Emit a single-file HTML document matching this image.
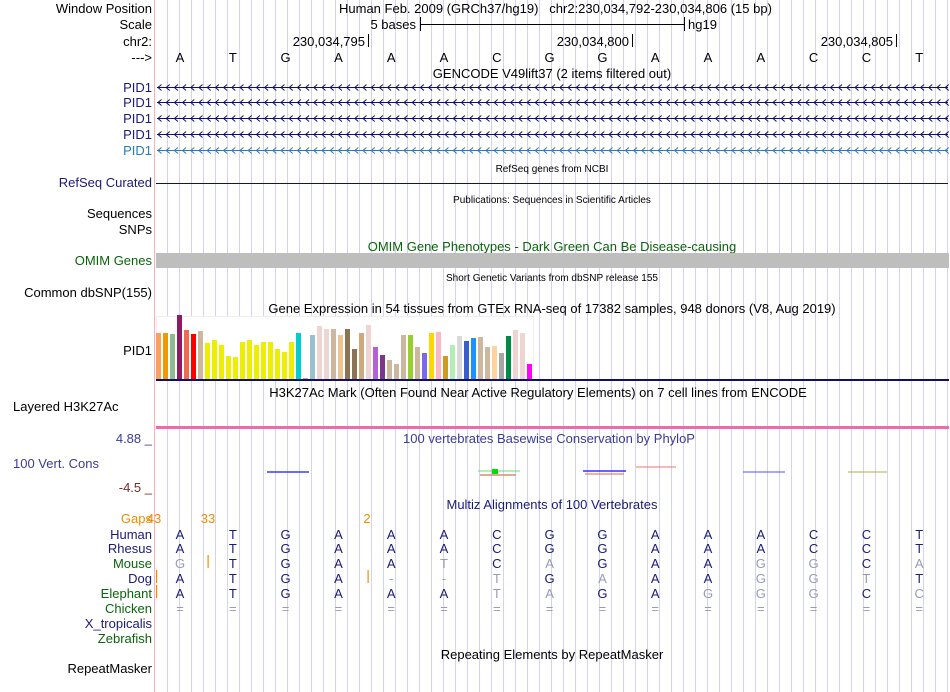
<!DOCTYPE html>
<html><head><meta charset="utf-8">
<style>
html,body{margin:0;padding:0;background:#fff;}
svg{display:block;font-family:"Liberation Sans",sans-serif;}
</style></head>
<body>
<svg id="main" width="950" height="692" viewBox="0 0 950 692" xmlns="http://www.w3.org/2000/svg">
<g id="grid"></g>
<line x1="154.5" y1="0" x2="154.5" y2="692" stroke="#ffb0b0" stroke-width="1"/>
<g font-size="13" text-anchor="end">
<text x="152" y="13" fill="#000">Window Position</text>
<text x="152" y="29" fill="#000">Scale</text>
<text x="152" y="46" fill="#000">chr2:</text>
<text x="152" y="62" fill="#000">---&gt;</text>
<text x="152" y="92" fill="#1a1a7a">PID1</text>
<text x="152" y="107" fill="#1a1a7a">PID1</text>
<text x="152" y="123" fill="#1a1a7a">PID1</text>
<text x="152" y="139" fill="#1a1a7a">PID1</text>
<text x="152" y="155" fill="#2a7ab8">PID1</text>
<text x="152" y="187" fill="#1a1a7a">RefSeq Curated</text>
<text x="152" y="218" fill="#000">Sequences</text>
<text x="152" y="234" fill="#000">SNPs</text>
<text x="152" y="265" fill="#0a640a">OMIM Genes</text>
<text x="152" y="297" fill="#000">Common dbSNP(155)</text>
<text x="152" y="355" fill="#000">PID1</text>
<text x="13" y="411" text-anchor="start" fill="#000">Layered H3K27Ac</text>
<text x="152" y="443" fill="#3a3a9a">4.88 _</text>
<text x="13" y="468" text-anchor="start" fill="#3a3a9a">100 Vert. Cons</text>
<text x="152" y="492" fill="#7a2a2a">-4.5 _</text>
<text x="152" y="523" fill="#f08c00">Gaps</text>
<text x="152" y="539" fill="#1a1a7a">Human</text>
<text x="152" y="553" fill="#1a1a7a">Rhesus</text>
<text x="152" y="568" fill="#0a640a">Mouse</text>
<text x="152" y="583" fill="#1a1a7a">Dog</text>
<text x="152" y="598" fill="#0a640a">Elephant</text>
<text x="152" y="613" fill="#0a640a">Chicken</text>
<text x="152" y="628" fill="#1a1a7a">X_tropicalis</text>
<text x="152" y="643" fill="#0a640a">Zebrafish</text>
<text x="152" y="673" fill="#000">RepeatMasker</text>
</g>
<g font-size="13" fill="#000">
<text x="339" y="13">Human Feb. 2009 (GRCh37/hg19)&#160;&#160;&#160;chr2:230,034,792-230,034,806 (15 bp)</text>
<text x="416" y="29" text-anchor="end">5 bases</text>
<line x1="420" y1="24.5" x2="684" y2="24.5" stroke="#000"/>
<line x1="420.5" y1="17" x2="420.5" y2="31" stroke="#000"/>
<line x1="684.5" y1="17" x2="684.5" y2="31" stroke="#000"/>
<text x="688" y="29">hg19</text>
<text x="365" y="46" text-anchor="end">230,034,795</text>
<line x1="368.5" y1="34" x2="368.5" y2="47" stroke="#000"/>
<text x="629" y="46" text-anchor="end">230,034,800</text>
<line x1="632.5" y1="34" x2="632.5" y2="47" stroke="#000"/>
<text x="893" y="46" text-anchor="end">230,034,805</text>
<line x1="896.5" y1="34" x2="896.5" y2="47" stroke="#000"/>
</g>
<g id="bases" font-size="13" text-anchor="middle"></g>
<g text-anchor="middle">
<text x="552" y="78" font-size="13">GENCODE V49lift37 (2 items filtered out)</text>
<text x="552" y="172" font-size="10">RefSeq genes from NCBI</text>
<text x="552" y="203" font-size="10">Publications: Sequences in Scientific Articles</text>
<text x="552" y="251" font-size="13" fill="#0a640a">OMIM Gene Phenotypes - Dark Green Can Be Disease-causing</text>
<text x="552" y="281" font-size="10">Short Genetic Variants from dbSNP release 155</text>
<text x="552" y="313" font-size="13">Gene Expression in 54 tissues from GTEx RNA-seq of 17382 samples, 948 donors (V8, Aug 2019)</text>
<text x="538" y="397" font-size="13">H3K27Ac Mark (Often Found Near Active Regulatory Elements) on 7 cell lines from ENCODE</text>
<text x="549" y="443" font-size="13" fill="#3a3a9a">100 vertebrates Basewise Conservation by PhyloP</text>
<text x="552" y="509" font-size="13" fill="#1a1a7a">Multiz Alignments of 100 Vertebrates</text>
<text x="552" y="659" font-size="13">Repeating Elements by RepeatMasker</text>
</g>
<g id="genes"></g>
<line x1="156" y1="183.5" x2="948" y2="183.5" stroke="#10106a"/>
<rect x="156" y="253" width="793" height="15" fill="#bebebe"/>
<rect x="156.5" y="316.5" width="377" height="63" fill="#fff" stroke="#eee"/>
<g id="gtex"></g>
<rect x="156" y="379" width="793" height="2" fill="#10106a"/>
<rect x="156" y="426" width="793" height="3" fill="#f06aa8"/>
<g>
<line x1="267" y1="472" x2="309" y2="472" stroke="#3a3aff" stroke-width="1.5"/>
<line x1="478" y1="471" x2="520" y2="471" stroke="#60e060" stroke-width="1"/>
<rect x="492" y="469" width="6" height="5" fill="#00e000"/>
<line x1="480" y1="475" x2="516" y2="475" stroke="#d09070" stroke-width="1.5"/>
<line x1="583" y1="471" x2="626" y2="471" stroke="#3030ff" stroke-width="1.5"/>
<line x1="585" y1="474" x2="624" y2="474" stroke="#e06060" stroke-width="1"/>
<line x1="636" y1="467" x2="676" y2="467" stroke="#f07070" stroke-width="1"/>
<line x1="743" y1="472" x2="785" y2="472" stroke="#5050ff" stroke-width="1"/>
<line x1="848" y1="472" x2="887" y2="472" stroke="#b0b040" stroke-width="1"/>
</g>
<g font-size="13" fill="#f08c00">
<text x="154" y="523" text-anchor="middle">43</text>
<text x="208" y="523" text-anchor="middle">33</text>
<text x="367" y="523" text-anchor="middle">2</text>
<rect x="207.5" y="555" width="1.2" height="13" fill="#f08c00"/>
<rect x="156" y="570" width="1.2" height="13" fill="#f08c00"/>
<rect x="367.5" y="570" width="1.2" height="13" fill="#f08c00"/>
<rect x="156" y="585" width="1.2" height="13" fill="#f08c00"/>
</g>
<g id="align" font-size="13" text-anchor="middle"></g>
</svg>
<script>
const gtexValues=[46,46,45,64,49,45,48,36,39,34,23,22,37,39,34,37,37,30,27,37,46,1,44,53,50,50,44,50,30,46,54,32,24,19,15,44,44,32,26,46,47,23,34,43,38,41,42,32,33,26,43,49,46,15];
const gtexColors=["#f4a460","#ee9a00","#8fbc8f","#8b1c62","#ee6a50","#ff0000","#cdb79e","#eeee00","#eeee00","#eeee00","#eeee00","#eeee00","#eeee00","#eeee00","#eeee00","#eeee00","#eeee00","#eeee00","#eeee00","#eeee00","#00cdcd","#aaaaaa","#9ac0cd","#eed5d2","#eed5d2","#cdb79e","#eec591","#8b7355","#8b7355","#cdaa7d","#eed5d2","#b460db","#7a378b","#cdb79e","#cdb79e","#cdb79e","#9acd32","#cdb79e","#7b68ee","#ffd700","#ffb6c1","#cd9b1d","#b4eeb4","#d9d9d9","#3a5fcd","#1e90ff","#cdb79e","#cdb79e","#ffd39b","#a6a6a6","#008b45","#eed5d2","#eed5d2","#ff00ff"];
const bases="ATGAAACGGAAACCT";
const alignRows=[
 {y:539,seq:"ATGAAACGGAAACCT",gray:"..............."},
 {y:553,seq:"ATGAAACGGAAACCT",gray:"..............."},
 {y:568,seq:"GTGAATCAGAAGGCA",gray:"x....x.x...xx.x"},
 {y:583,seq:"ATGA--TGAAAGGTT",gray:"....xxx.x..xxx."},
 {y:598,seq:"ATGAAATAGAGGGCC",gray:"......xx..xxx.x"},
 {y:613,seq:"===============",gray:"xxxxxxxxxxxxxxx"}
];
const NS="http://www.w3.org/2000/svg";
function mk(t,a,p){const e=document.createElementNS(NS,t);for(const k in a)e.setAttribute(k,a[k]);p.appendChild(e);return e;}
function xBase(i){return 153.6+(i+0.5)*52.8;}
function xBar(i){return 156+i*7;}
function yBar(v){return 379-v;}
const grid=document.getElementById('grid');
for(let x=167;x<950;x+=12){const l=mk('line',{x1:x+0.5,y1:0,x2:x+0.5,y2:692,stroke:'#d2d2f2','stroke-width':1},grid);

}
const bg=document.getElementById('bases');
for(let i=0;i<bases.length;i++){const t=mk('text',{x:xBase(i),y:62},bg);t.textContent=bases[i];

}
const genes=document.getElementById('genes');
[87,102,118,134,150].forEach((y,r)=>{const c=r==4?'#2a7ab8':'#10106a';
const yy=y+0.5;
const g=mk('g',{stroke:c,fill:'none','stroke-width':1},genes);


mk('line',{x1:157,y1:yy,x2:948,y2:yy},g);
let d='';for(let x=158;x<946;x+=8.2){d+='M'+(x+3.5)+' '+(yy-3)+'L'+x+' '+yy+'L'+(x+3.5)+' '+(yy+3);}
mk('path',{d:d},g);});
const gt=document.getElementById('gtex');
for(let i=0;i<gtexValues.length;i++){const r=mk('rect',{x:xBar(i),y:yBar(gtexValues[i]),width:5,height:gtexValues[i],fill:gtexColors[i]},gt);

}
const al=document.getElementById('align');
alignRows.forEach((row,ri)=>{for(let i=0;i<row.seq.length;i++){const t=mk('text',{x:xBase(i),y:row.y,fill:row.gray[i]=='x'?'#9a9ab8':'#1a1a7a'},al);t.textContent=row.seq[i];

}});
</script>
</body></html>
